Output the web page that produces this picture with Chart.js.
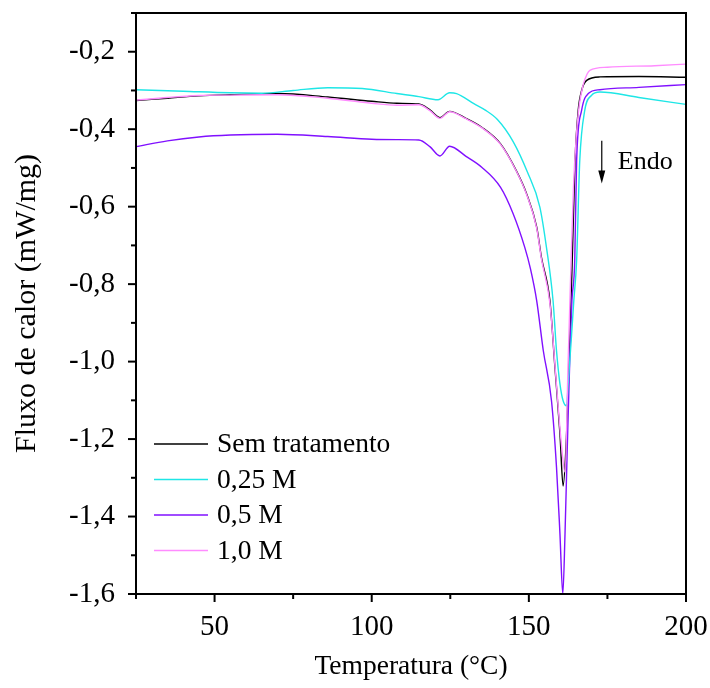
<!DOCTYPE html>
<html>
<head>
<meta charset="utf-8">
<script src="https://cdn.jsdelivr.net/npm/chart.js@4.4.1/dist/chart.umd.min.js"></script>
<style>
html,body{margin:0;padding:0;background:#fff;}
#wrap{width:710px;height:688px;position:relative;}
</style>
</head>
<body>
<div id="wrap"><canvas id="c" width="710" height="688"></canvas></div>
<script>
// ---- data (temperature °C, heat flow mW/mg) ----
const seriesLabels = ["Sem tratamento", "0,25 M", "0,5 M", "1,0 M"];
const seriesColors = ["#000000", "#1ee6e6", "#8010ff", "#ff8cff"];

const tempSem = [25,35,45,55,70,86,100,108,115,118.5,121.7,124.8,130,135,141,146,149.3,152.5,154,156.7,158.3,159.9,160.9,162.0,163.1,163.8,164.7,165.7,166.8,168.4,172.6,185,200];
const fluxSem = [-0.326,-0.320,-0.314,-0.311,-0.308,-0.317,-0.328,-0.333,-0.335,-0.350,-0.370,-0.354,-0.372,-0.395,-0.438,-0.507,-0.567,-0.653,-0.731,-0.843,-1.015,-1.187,-1.321,-1.187,-0.928,-0.739,-0.481,-0.351,-0.300,-0.274,-0.265,-0.264,-0.266];

const temp025 = [25,40,55,65,75,86,97,108,115,121.1,124.8,127,132.5,136,140,145,149.5,153.5,155.6,157.7,158.8,159.9,160.9,162.0,162.5,163.6,164.3,165.2,166.2,167.8,169.9,172.6,185,200];
const flux025 = [-0.298,-0.302,-0.306,-0.307,-0.300,-0.293,-0.295,-0.308,-0.316,-0.324,-0.306,-0.308,-0.334,-0.350,-0.375,-0.432,-0.510,-0.601,-0.705,-0.843,-0.972,-1.058,-1.101,-1.114,-1.060,-0.930,-0.843,-0.739,-0.481,-0.351,-0.313,-0.304,-0.318,-0.336];

const temp05 = [25,35,45,55,70,86,100,108,115,118.5,121.7,124.8,130,135,141,145,148.7,150.5,152.5,154.6,157.2,158.8,159.9,160.8,161.5,162.2,163.1,163.7,164.6,165.2,166.8,168.9,172.6,185,200];
const flux05 = [-0.445,-0.430,-0.420,-0.415,-0.413,-0.419,-0.426,-0.427,-0.428,-0.445,-0.469,-0.444,-0.470,-0.498,-0.550,-0.618,-0.705,-0.760,-0.843,-0.972,-1.101,-1.273,-1.446,-1.600,-1.446,-1.230,-0.972,-0.843,-0.739,-0.481,-0.351,-0.308,-0.298,-0.292,-0.285];

const temp10 = [25,35,45,55,70,86,100,108,115,118.5,121.7,124.8,130,135,141,146,149.3,152.5,154,156.7,158.5,160.2,161.5,162.5,163.4,164.2,165.0,166.0,167.3,168.5,169.4,175,190,200];
const flux10 = [-0.325,-0.318,-0.313,-0.312,-0.311,-0.320,-0.333,-0.338,-0.337,-0.352,-0.372,-0.355,-0.373,-0.396,-0.439,-0.508,-0.569,-0.656,-0.735,-0.850,-1.030,-1.200,-1.285,-1.000,-0.750,-0.550,-0.430,-0.340,-0.285,-0.258,-0.248,-0.240,-0.236,-0.232];

const xMin = 25, xMax = 200, xStep = 25, xLabelEvery = 50;
const yMin = -1.6, yMax = -0.1, yStep = 0.1;

const xTitle = "Temperatura (°C)";
const yTitle = "Fluxo de calor (mW/mg)";
const noteText = "Endo";
const noteArrow = {x: 173.2, yFrom: -0.43, yTo: -0.54};
const noteLabel = {x: 178.3, y: -0.486};

const FONT = "'Liberation Serif', 'Times New Roman', serif";

function toPts(xs, ys){ return xs.map((x,i)=>({x:x, y:ys[i]})); }

const datasets = [
  {label: seriesLabels[0], data: toPts(tempSem, fluxSem)},
  {label: seriesLabels[1], data: toPts(temp025, flux025)},
  {label: seriesLabels[2], data: toPts(temp05, flux05)},
  {label: seriesLabels[3], data: toPts(temp10, flux10)}
].map((d,i)=>Object.assign(d,{
  borderColor: seriesColors[i], backgroundColor: seriesColors[i],
  borderWidth: 1.4, pointRadius: 0, fill: false,
  cubicInterpolationMode: 'monotone'
}));
const order = [3,1,2,0];
order.forEach((idx, k)=>{ datasets[idx].order = k; });

const decorPlugin = {
  id: 'decor',
  afterDraw(chart){
    const ctx = chart.ctx, a = chart.chartArea;
    const xs = chart.scales.x, ys = chart.scales.y;
    ctx.save();
    ctx.strokeStyle = '#000'; ctx.lineWidth = 2;
    ctx.strokeRect(a.left, a.top, a.right-a.left, a.bottom-a.top);
    xs.ticks.forEach(t=>{
      const px = xs.getPixelForValue(t.value);
      const major = Math.round(t.value) % xLabelEvery === 0;
      const len = major ? 8 : 5;
      ctx.beginPath(); ctx.moveTo(px, a.bottom); ctx.lineTo(px, a.bottom+len); ctx.stroke();
    });
    ys.ticks.forEach(t=>{
      const py = ys.getPixelForValue(t.value);
      const major = Math.round(Math.abs(t.value)*10) % 2 === 0;
      const len = major ? 8 : 5;
      ctx.beginPath(); ctx.moveTo(a.left, py); ctx.lineTo(a.left-len, py); ctx.stroke();
    });
    // legend
    ctx.font = "27.5px " + FONT; ctx.textBaseline = 'middle'; ctx.fillStyle = '#000';
    const lx0 = 154, lx1 = 208, ly0 = 444, dy = 35.5;
    chart.data.datasets.forEach((d,i)=>{
      const y = ly0 + i*dy;
      ctx.strokeStyle = d.borderColor; ctx.lineWidth = 1.4;
      ctx.beginPath(); ctx.moveTo(lx0, y); ctx.lineTo(lx1, y); ctx.stroke();
      ctx.fillText(d.label, 217, y+1);
    });
    // Endo arrow
    const ax = xs.getPixelForValue(noteArrow.x);
    const ay0 = ys.getPixelForValue(noteArrow.yFrom), ay1 = ys.getPixelForValue(noteArrow.yTo);
    ctx.strokeStyle = '#000'; ctx.lineWidth = 1.2;
    ctx.beginPath(); ctx.moveTo(ax, ay0); ctx.lineTo(ax, ay1-8); ctx.stroke();
    ctx.beginPath(); ctx.moveTo(ax, ay1); ctx.lineTo(ax-3.5, ay1-13); ctx.lineTo(ax+3.5, ay1-13); ctx.closePath(); ctx.fill();
    ctx.font = "26px " + FONT; ctx.textAlign = 'left';
    ctx.fillText(noteText, xs.getPixelForValue(noteLabel.x), ys.getPixelForValue(noteLabel.y));
    ctx.restore();
  }
};

new Chart(document.getElementById('c'), {
  type: 'line',
  data: {datasets},
  options: {
    responsive: false, animation: false,
    layout: {padding: {top: 13, right: 24, bottom: 0, left: 0}},
    plugins: {legend: {display: false}, tooltip: {enabled: false}},
    scales: {
      x: {
        type: 'linear', min: xMin, max: xMax,
        afterFit(s){ s.height = 94; s.paddingLeft = 0; s.paddingRight = 0; },
        ticks: {stepSize: xStep, autoSkip: false, maxRotation: 0, color: '#000',
          font: {family: FONT, size: 29}, padding: 8,
          callback: v => (Math.round(v) % xLabelEvery === 0 && v !== xMin) ? String(v) : ''},
        grid: {display: true, drawOnChartArea: false, drawTicks: true, tickLength: 8, color: 'rgba(0,0,0,0)'},
        border: {display: false},
        title: {display: true, text: xTitle, color: '#000', font: {family: FONT, size: 27.5}, padding: {top: 0, bottom: 5}}
      },
      y: {
        type: 'linear', min: yMin, max: yMax,
        afterFit(s){ s.width = 136; s.paddingTop = 0; s.paddingBottom = 0; },
        ticks: {stepSize: yStep, autoSkip: false, color: '#000',
          font: {family: FONT, size: 29}, padding: 13,
          callback: v => (Math.round(Math.abs(v)*10) % 2 === 0) ? v.toFixed(1).replace('.', ',') : ''},
        grid: {display: true, drawOnChartArea: false, drawTicks: true, tickLength: 8, color: 'rgba(0,0,0,0)'},
        border: {display: false},
        title: {display: true, text: yTitle, color: '#000', font: {family: FONT, size: 30}, padding: {top: 9, bottom: 0}}
      }
    }
  },
  plugins: [decorPlugin]
});
</script>
</body>
</html>
